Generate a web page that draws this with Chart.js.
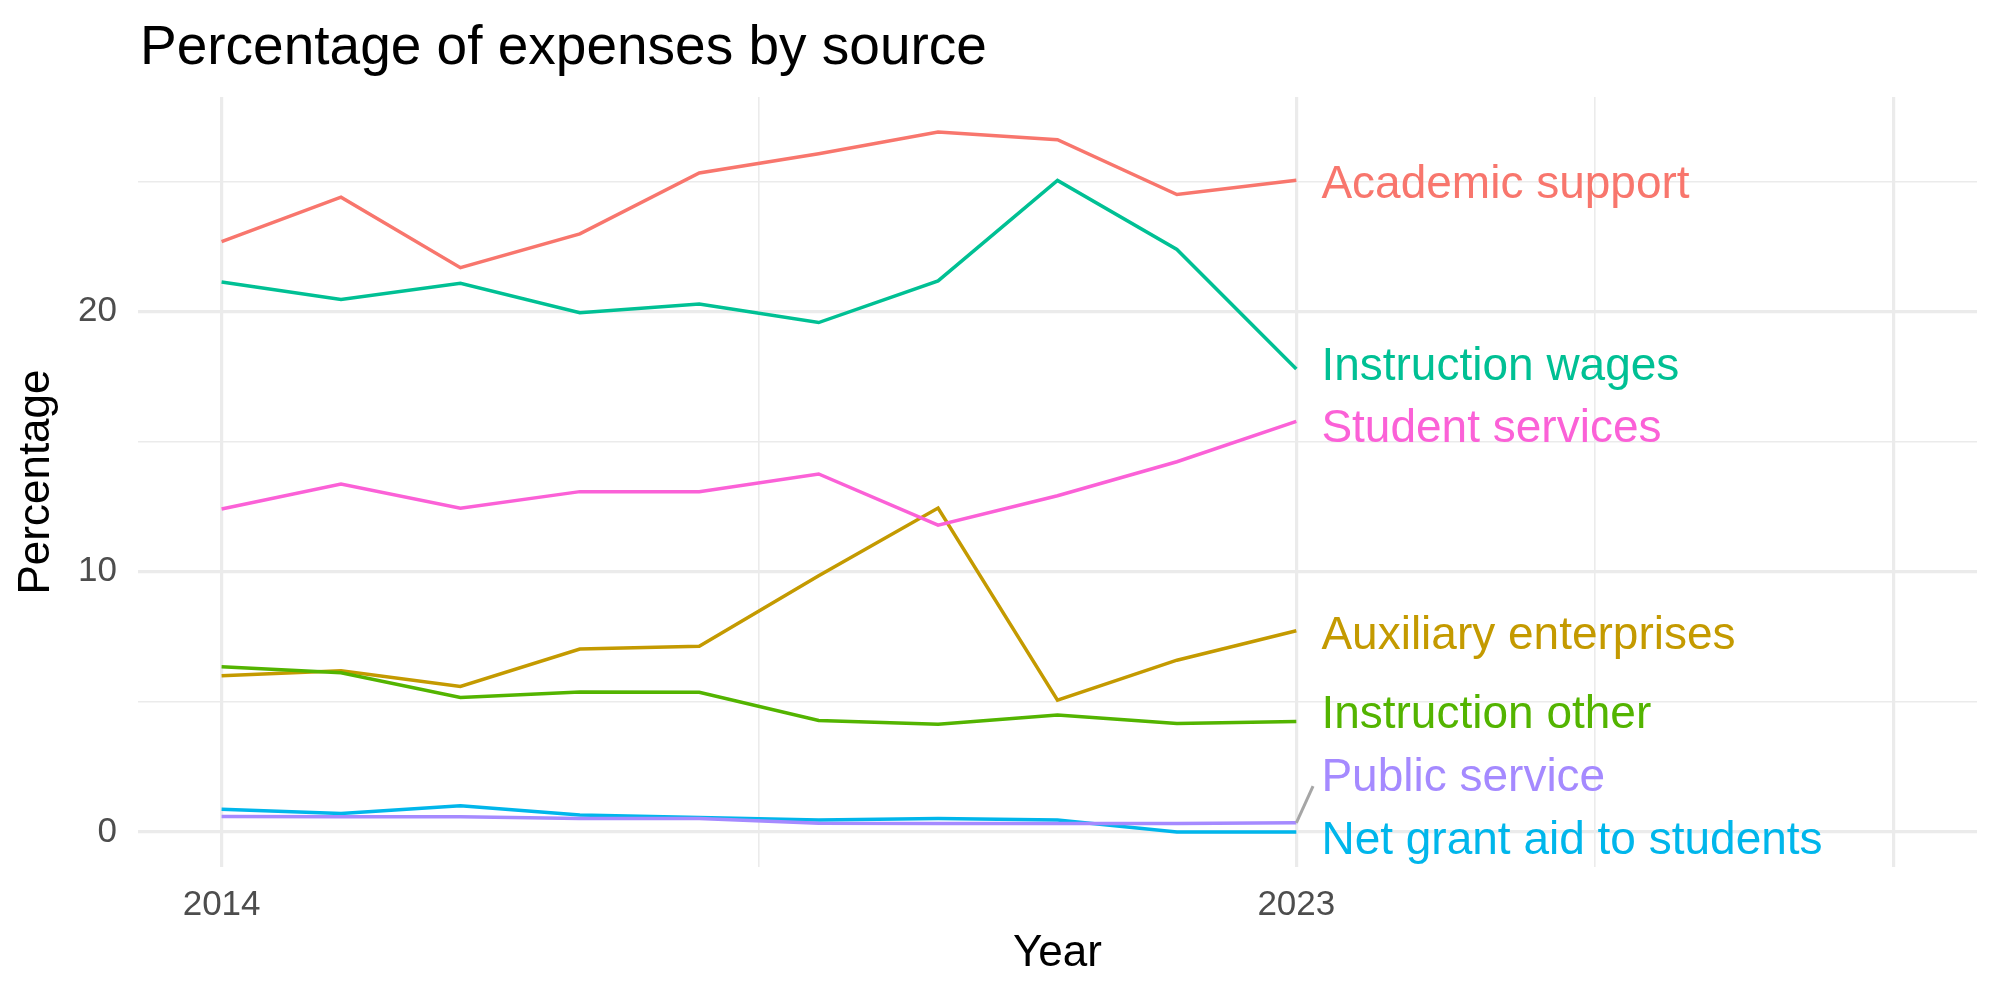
<!DOCTYPE html>
<html lang="en">
<head>
    <meta charset="UTF-8">
    <title>Percentage of expenses by source</title>
    <script src="https://cdn.jsdelivr.net/npm/chart.js@4.4.0/dist/chart.umd.min.js"></script>
    <style>
        body { margin: 0; background: #fff; }
        canvas { display: block; }
    </style>
</head>
<body>
<canvas id="graph" width="2000" height="1000"></canvas>
<script>
    // Years and series (percent of expenses)
    const years = [2014, 2015, 2016, 2017, 2018, 2019, 2020, 2021, 2022, 2023];
    const academicSupport = [22.69, 24.40, 21.69, 22.99, 25.33, 26.07, 26.90, 26.61, 24.50, 25.05];
    const auxiliaryEnterprises = [6.00, 6.19, 5.59, 7.03, 7.14, 9.85, 12.45, 5.06, 6.60, 7.73];
    const instructionOther = [6.35, 6.12, 5.17, 5.38, 5.37, 4.28, 4.14, 4.49, 4.17, 4.24];
    const instructionWages = [21.14, 20.47, 21.09, 19.96, 20.29, 19.58, 21.18, 25.04, 22.39, 17.79];
    const netGrantAid = [0.87, 0.71, 1.00, 0.65, 0.55, 0.46, 0.51, 0.46, 0.00, 0.00];
    const publicService = [0.59, 0.58, 0.58, 0.51, 0.51, 0.33, 0.32, 0.32, 0.32, 0.35];
    const studentServices = [12.41, 13.37, 12.44, 13.08, 13.08, 13.76, 11.79, 12.92, 14.23, 15.78];

    const seriesNames = ['Academic support', 'Auxiliary enterprises', 'Instruction other',
        'Instruction wages', 'Net grant aid to students', 'Public service', 'Student services'];
    const seriesValues = [academicSupport, auxiliaryEnterprises, instructionOther,
        instructionWages, netGrantAid, publicService, studentServices];
    const seriesColors = ['#F8766D', '#C49A00', '#53B400', '#00C094', '#00B6EB', '#A58AFF', '#FB61D7'];

    // end labels (repelled positions, in data units)
    const labelX = 2023.21;
    const labelY = [24.85, 7.52, 4.47, 17.85, -0.35, 2.05, 15.48];
    // leader segment for Public service
    const segFrom = [2023, 0.35];
    const segTo = [2023.14, 1.76];

    // axis breaks
    const xTicks = [2014, 2018.5, 2023, 2025.5, 2028];
    const xLabelled = [2014, 2023];
    const yTicks = [0, 5, 10, 15, 20, 25];
    const yLabelled = [0, 10, 20];

    const FONT = "'Liberation Sans', Arial, Helvetica, sans-serif";

    const datasets = seriesNames.map((name, i) => ({
        label: name,
        data: years.map((y, j) => ({ x: y, y: seriesValues[i][j] })),
        borderColor: seriesColors[i],
        backgroundColor: seriesColors[i],
        borderWidth: 3.5,
        pointRadius: 0,
        tension: 0,
        fill: false,
        order: seriesNames.length - i
    }));

    const endLabels = {
        id: 'endLabels',
        afterDatasetsDraw(chart) {
            const ctx = chart.ctx;
            const xs = chart.scales.x, ys = chart.scales.y;
            ctx.save();
            // leader segment
            ctx.strokeStyle = '#A6A6A6';
            ctx.lineWidth = 3;
            ctx.beginPath();
            ctx.moveTo(xs.getPixelForValue(segFrom[0]), ys.getPixelForValue(segFrom[1]));
            ctx.lineTo(xs.getPixelForValue(segTo[0]), ys.getPixelForValue(segTo[1]));
            ctx.stroke();
            ctx.font = '46px ' + FONT;
            ctx.textAlign = 'left';
            ctx.textBaseline = 'middle';
            seriesNames.forEach((name, i) => {
                ctx.fillStyle = seriesColors[i];
                ctx.fillText(name, xs.getPixelForValue(labelX), ys.getPixelForValue(labelY[i]));
            });
            // title
            ctx.fillStyle = '#000';
            ctx.font = '55px ' + FONT;
            ctx.textBaseline = 'alphabetic';
            ctx.fillText('Percentage of expenses by source', chart.chartArea.left + 2, 64);
            ctx.restore();
        }
    };

    const gridColor = '#EBEBEB';

    new Chart(document.getElementById('graph').getContext('2d'), {
        type: 'line',
        data: { datasets: datasets },
        options: {
            responsive: false,
            animation: false,
            layout: { padding: { top: 97, right: 23, bottom: 0, left: 0 } },
            plugins: {
                legend: { display: false },
                tooltip: { enabled: false }
            },
            scales: {
                x: {
                    type: 'linear',
                    min: 2013.3,
                    max: 2028.7,
                    afterFit: s => { s.height = 133; },
                    afterBuildTicks: s => { s.ticks = xTicks.map(v => ({ value: v })); },
                    border: { display: false },
                    grid: {
                        drawTicks: false,
                        color: gridColor,
                        lineWidth: c => (xTicks.indexOf(c.tick.value) % 2 === 0 ? 3.2 : 1.6)
                    },
                    ticks: {
                        padding: 17,
                        maxRotation: 0,
                        autoSkip: false,
                        color: '#4D4D4D',
                        font: { family: FONT, size: 35 },
                        callback: v => (xLabelled.includes(v) ? String(v) : '')
                    },
                    title: {
                        display: true,
                        text: 'Year',
                        color: '#000',
                        font: { family: FONT, size: 44 },
                        padding: { top: 0, bottom: 20 }
                    }
                },
                y: {
                    type: 'linear',
                    min: -1.35,
                    max: 28.25,
                    afterFit: s => { s.width = 138; },
                    afterBuildTicks: s => { s.ticks = yTicks.map(v => ({ value: v })); },
                    border: { display: false },
                    grid: {
                        drawTicks: false,
                        color: gridColor,
                        lineWidth: c => (yLabelled.includes(c.tick.value) ? 3.2 : 1.6)
                    },
                    ticks: {
                        padding: 21,
                        color: '#4D4D4D',
                        font: { family: FONT, size: 35 },
                        callback: v => (yLabelled.includes(v) ? String(v) : '')
                    },
                    title: {
                        display: true,
                        text: 'Percentage',
                        color: '#000',
                        font: { family: FONT, size: 44 },
                        padding: { top: 10, bottom: 0 }
                    }
                }
            }
        },
        plugins: [endLabels]
    });
</script>
</body>
</html>
